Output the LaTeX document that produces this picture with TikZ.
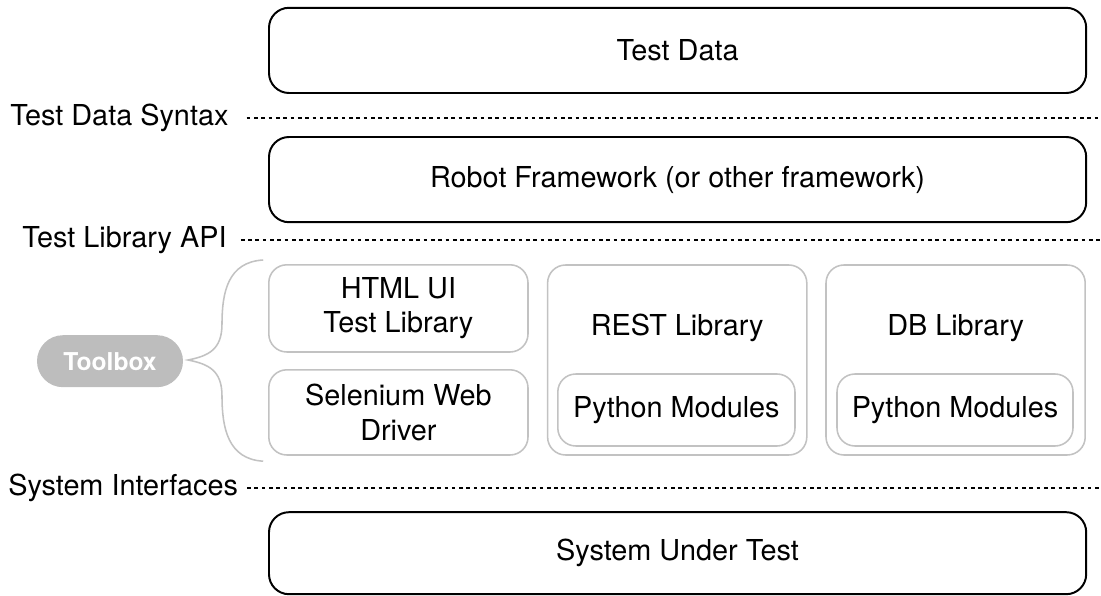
\documentclass[tikz,border=0pt]{standalone}
\usepackage{fontspec}
\setmainfont{TeX Gyre Heros}
\definecolor{boxgray}{HTML}{C2C2C2}
\definecolor{pillgray}{HTML}{BDBDBD}
\begin{document}
\begin{tikzpicture}[layer/.style={shape=rectangle,draw=black,line width=1.4pt,rounded corners=0.5cm,minimum width=20.43cm,font=\fontsize{20.5}{24.5}\selectfont},
tool/.style={shape=rectangle,draw=boxgray,line width=1.1pt,rounded corners=0.45cm,minimum width=6.48cm,align=center,font=\fontsize{20.5}{24.5}\selectfont},
iface/.style={font=\fontsize{20.5}{24.5}\selectfont,inner sep=0pt},
sep/.style={line width=1pt,dash pattern=on 2.6pt off 2.6pt}]
\useasboundingbox (0,0) rectangle (27.525,-14.9);
\coordinate (R) at (27.525,0);
\node[layer,minimum height=2.13cm] (TD) at (16.94,-1.26) {Test Data};
\node[layer,minimum height=2.13cm] (RF) at (16.94,-4.49) {Robot Framework (or other framework)};
\node[layer,minimum height=2.05cm] (SUT) at (16.94,-13.83) {System Under Test};
\node[iface,anchor=west] (TDS) at (0.25,-2.95) {Test Data Syntax};
\node[iface,anchor=west] (TLA) at (0.55,-6.0) {Test Library API};
\node[iface,anchor=west] (SI) at (0.2,-12.2) {System Interfaces};
\draw[sep] ([xshift=0.45cm]TDS.east) -- (TDS.east -| R);
\draw[sep] ([xshift=0.35cm]TLA.east) -- (TLA.east -| R);
\draw[sep] ([xshift=0.22cm]SI.east) -- (SI.east -| R);
\node[tool,minimum height=2.18cm] (HTML) at (9.96,-7.71) {HTML UI\\Test Library};
\node[tool,minimum height=2.13cm] (SWD) at (9.96,-10.31) {Selenium Web\\Driver};
\node[tool,minimum height=4.75cm] (REST) at (16.93,-9.0) {};
\node[tool,minimum height=4.75cm] (DB) at (23.89,-9.0) {};
\node[iface] (RESTL) at (16.93,-8.2) {REST Library};
\node[iface] (DBL) at (23.89,-8.2) {DB Library};
\node[tool,minimum width=5.93cm,minimum height=1.8cm] (RPM) at (16.91,-10.25) {Python Modules};
\node[tool,minimum width=5.9cm,minimum height=1.8cm] (DPM) at (23.875,-10.25) {Python Modules};
\node[shape=rectangle,fill=pillgray,text=white,rounded corners=0.65cm,minimum width=3.65cm,minimum height=1.3cm,font=\fontsize{17.5}{21}\selectfont\bfseries] (TB) at (2.75,-9.03) {Toolbox};
\coordinate (BT) at (6.58,-6.5);
\coordinate (BB) at (6.58,-11.53);
\coordinate (BP) at (4.7,-9.0);
\draw[boxgray,line width=1.1pt] (BT) .. controls (5.7,-6.55) and (5.55,-7.3) .. (5.55,-8.1) .. controls (5.55,-8.75) and (5.2,-8.9) .. (BP) .. controls (5.2,-9.1) and (5.55,-9.25) .. (5.55,-9.9) .. controls (5.55,-10.7) and (5.7,-11.48) .. (BB);
\end{tikzpicture}
\end{document}
